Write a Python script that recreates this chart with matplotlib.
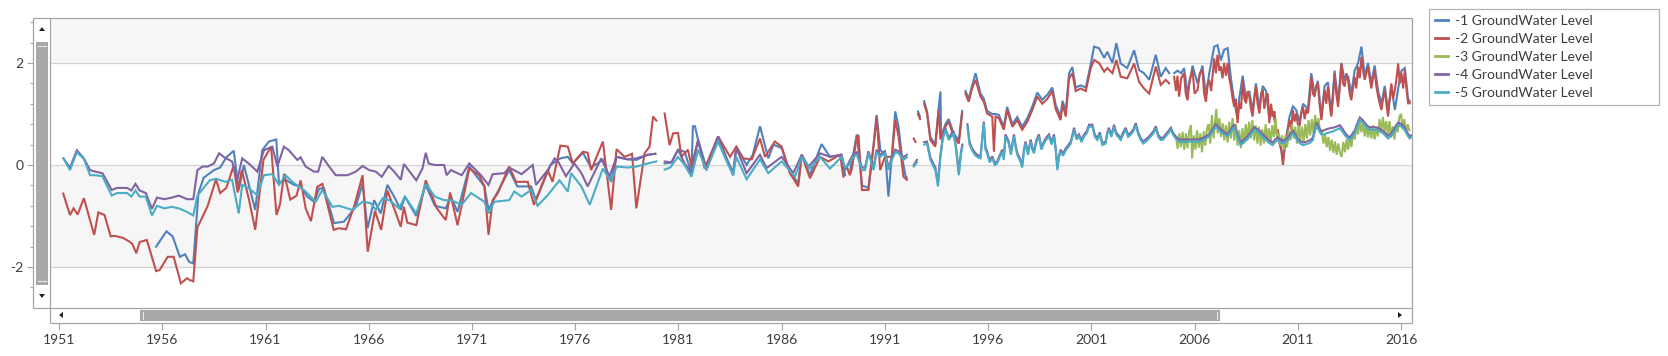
import numpy as np
import matplotlib
matplotlib.use("Agg")
import matplotlib.pyplot as plt
from matplotlib.patches import Rectangle, Polygon
from matplotlib.lines import Line2D
from matplotlib.ticker import MultipleLocator

plt.rcParams['font.family'] = ['Lato', 'DejaVu Sans']

# ---------------- data: (decimal year, level); None marks a gap ----------------
series_names = ["-1 GroundWater Level", "-2 GroundWater Level", "-3 GroundWater Level",
                "-4 GroundWater Level", "-5 GroundWater Level"]
series_colors = ["#4F81BD", "#C0504D", "#9BBB59", "#8064A2", "#4BACC6"]
x_ticks = [1951, 1956, 1961, 1966, 1971, 1976, 1981, 1986, 1991, 1996, 2001, 2006, 2011, 2016]
y_ticks = [-2, 0, 2]

gw1_early = [(1955.7, -1.6), (1956.2, -1.3), (1956.5, -1.4), (1956.85, -1.8), (1957.1, -1.75), (1957.3, -1.9),
             (1957.5, -1.93), (1957.75, -0.55), (1958.0, -0.25), (1958.5, -0.1), (1958.8, -0.05), (1959.1, 0.15),
             (1959.46, 0.28), (1959.7, -0.49), (1959.95, 0.0), (1960.5, -0.88), (1960.84, 0.29), (1961.16, 0.46),
             (1961.52, 0.5), (1961.65, -0.36), (1961.97, -0.29), (1962.38, -0.39), (1962.7, -0.42), (1963.02, -0.62),
             (1963.35, -0.72), (1963.6, -0.46), (1963.83, -0.46), (1964.32, -1.14), (1964.8, -1.11), (1965.37, -0.82),
             (1965.7, -0.36), (1965.94, -1.24), (1966.26, -0.69), (1966.58, -0.95), (1966.9, -0.39), (1967.23, -0.62),
             (1967.55, -0.88), (1967.75, -0.62), (1968.3, -1.0), (1968.76, -0.39), (1969.2, -0.8), (1969.73, -0.85),
             (1969.98, -0.62), (1970.3, -0.92), (1970.87, -0.03), (1971.6, -0.42), (1971.8, -0.88), (1972.08, -0.65),
             (1972.8, -0.1), (1973.2, -0.42), (1973.86, -0.42), (1974.1, -0.69), (1974.8, 0.0), (1975.28, 0.13),
             (1975.64, 0.16), (1975.88, 0.03), (1976.37, 0.24), (1976.77, -0.05), (1977.34, 0.1), (1977.74, -0.33),
             (1978.0, 0.16), (1978.55, 0.11), (1978.96, 0.1), (1979.5, 0.2), (1979.88, 0.22), None,
             (1980.33, 0.03), (1980.66, 0.05), (1980.98, 0.3), (1981.3, 0.26), (1981.63, -0.16), (1981.7, 0.76),
             (1981.8, 0.76), (1981.95, 0.49), (1982.35, -0.05), (1982.92, 0.56), (1983.3, 0.16), (1983.65, -0.15),
             (1983.8, 0.36), (1984.3, 0.0), (1984.6, 0.2), (1984.95, 0.76), (1985.35, 0.13), (1985.6, 0.4),
             (1986.0, 0.33), (1986.4, -0.15), (1986.8, -0.35), (1986.97, 0.2), (1987.37, -0.2), (1987.93, 0.41),
             (1988.34, 0.16), (1988.9, 0.2), (1989.07, -0.2)]
gw1_mid = [(1989.3, -0.15), (1989.64, 0.6), (1989.89, -0.4), (1990.2, -0.45), (1990.45, 0.4), (1990.6, 0.98),
           (1990.78, 0.29), (1991.02, 0.2), (1991.17, -0.62), (1991.34, 0.2), (1991.5, 1.05), (1991.66, 0.75),
           (1991.83, 0.15), (1991.99, -0.2), (1992.06, -0.25), None, (1992.6, 1.05), (1992.7, 0.95), None,
           (1992.9, 1.25), (1993.04, 1.05), (1993.2, 0.55), (1993.44, 0.4), (1993.6, 1.1), (1993.69, 1.44),
           (1993.72, 0.55), (1993.93, 0.8), (1994.09, 0.9), (1994.33, 0.62), (1994.58, 0.48), (1994.74, 1.06), None,
           (1994.9, 1.45), (1995.06, 1.3), (1995.22, 1.55), (1995.39, 1.8), (1995.63, 1.4), (1995.79, 1.3),
           (1995.95, 1.06), (1996.2, 1.0), (1996.36, 1.0), (1996.52, 0.98), (1996.76, 0.75), (1996.92, 1.14),
           (1997.17, 0.8), (1997.41, 0.94), (1997.65, 0.75), (1997.9, 0.92), (1998.14, 1.15), (1998.38, 1.42),
           (1998.62, 1.28), (1998.87, 1.38), (1999.11, 1.52), (1999.27, 1.18), (1999.51, 0.95), (1999.6, 1.26),
           (1999.76, 1.05), (1999.92, 1.8), (2000.08, 1.92), (2000.24, 1.52), (2000.48, 1.56), (2000.73, 1.52),
           (2000.97, 1.98), (2001.13, 2.32), (2001.37, 2.29), (2001.62, 2.1), (2001.77, 2.22), (2002.02, 2.0),
           (2002.21, 2.39), (2002.42, 1.99), (2002.74, 1.9), (2003.07, 2.25), (2003.31, 1.86), (2003.55, 1.8),
           (2003.8, 1.67), (2004.12, 2.16), (2004.36, 1.73), (2004.6, 1.9), (2004.77, 1.8)]
gw1_late = [(2005.01, 1.8), (2005.17, 1.85), (2005.35, 1.8), (2005.49, 1.9), (2005.66, 1.4), (2005.9, 1.95),
            (2006.14, 1.6), (2006.38, 1.95), (2006.55, 1.35), (2006.71, 1.8), (2006.95, 2.32), (2007.11, 2.35),
            (2007.27, 2.05), (2007.43, 2.26), (2007.6, 2.29), (2007.76, 1.7), (2007.92, 1.25), (2008.08, 0.9),
            (2008.16, 1.3), (2008.33, 1.75), (2008.49, 1.3), (2008.65, 1.45), (2008.81, 1.05), (2008.97, 1.6),
            (2009.14, 1.1), (2009.3, 1.55), (2009.46, 1.45), (2009.62, 0.9), (2009.79, 1.05), (2009.95, 0.7),
            (2010.11, 0.5), (2010.28, 0.1), (2010.44, 0.55), (2010.6, 0.95), (2010.76, 1.15), (2010.92, 1.08),
            (2011.08, 0.85), (2011.25, 1.2), (2011.49, 1.1), (2011.65, 1.8), (2011.81, 1.4), (2011.97, 1.65),
            (2012.14, 0.95), (2012.3, 1.55), (2012.46, 1.62), (2012.62, 1.0), (2012.78, 1.85), (2012.95, 1.25),
            (2013.11, 2.0), (2013.27, 1.65), (2013.43, 1.75), (2013.59, 1.4), (2013.75, 1.85), (2013.92, 2.0),
            (2014.08, 2.32), (2014.24, 1.75), (2014.4, 2.0), (2014.56, 1.6), (2014.72, 1.95), (2014.89, 1.45),
            (2015.05, 1.2), (2015.21, 1.55), (2015.37, 1.05), (2015.53, 1.55), (2015.7, 1.08), (2015.86, 1.5),
            (2016.02, 1.85), (2016.18, 1.9), (2016.34, 1.3), (2016.42, 1.25)]

gw2_early = [(1951.2, -0.56), (1951.53, -0.98), (1951.7, -0.85), (1951.9, -0.97), (1952.2, -0.65), (1952.7, -1.37),
             (1952.9, -0.93), (1953.2, -0.98), (1953.5, -1.4), (1953.7, -1.39), (1954.1, -1.43), (1954.4, -1.5),
             (1954.55, -1.55), (1954.74, -1.73), (1954.9, -1.51), (1955.25, -1.47), (1955.7, -2.08), (1955.87, -2.06),
             (1956.26, -1.8), (1956.55, -1.8), (1956.9, -2.32), (1957.2, -2.22), (1957.3, -2.25), (1957.5, -2.28),
             (1957.7, -1.22), (1957.85, -1.1), (1958.2, -0.8), (1958.6, -0.28), (1958.8, -0.55), (1959.1, -0.45),
             (1959.45, -0.02), (1959.65, -0.54), (1959.85, -0.1), (1960.2, -0.68), (1960.5, -1.27), (1960.9, 0.1),
             (1961.27, 0.36), (1961.53, -0.98), (1961.7, -0.77), (1961.9, -0.17), (1962.2, -0.68), (1962.5, -0.6),
             (1962.7, -0.3), (1962.95, -0.86), (1963.2, -1.1), (1963.5, -0.43), (1963.75, -0.37), (1964.3, -1.27),
             (1964.55, -1.24), (1964.9, -1.26), (1965.3, -0.8), (1965.7, -0.2), (1965.95, -1.7), (1966.3, -0.9),
             (1966.6, -1.27), (1966.9, -0.5), (1967.3, -0.93), (1967.55, -1.21), (1967.7, -0.82), (1967.87, -1.13),
             (1968.3, -1.18), (1968.76, -0.3), (1969.3, -0.85), (1969.73, -1.08), (1969.94, -0.54), (1970.3, -1.18),
             (1970.87, -0.07), (1971.35, -0.2), (1971.6, -0.42), (1971.8, -1.37), (1972.0, -0.69), (1972.24, -0.56),
             (1972.8, -0.03), (1973.13, -0.33), (1973.7, -0.33), (1974.0, -0.78), (1974.67, -0.1), (1974.9, -0.33),
             (1975.28, 0.38), (1975.64, 0.36), (1975.88, 0.03), (1976.37, 0.26), (1976.6, 0.24), (1976.77, -0.1),
             (1977.34, 0.46), (1977.74, -0.88), (1978.0, 0.31), (1978.39, 0.16), (1978.75, 0.22), (1978.96, -0.85),
             (1979.36, 0.23), (1979.6, 0.36), (1979.77, 0.95), (1979.93, 0.87), None,
             (1980.33, 1.01), (1980.57, 0.39), (1980.74, 0.62), (1980.98, 0.63), (1981.14, 0.16), (1981.46, 0.3),
             (1981.63, -0.03), (1981.95, 0.49), (1982.27, -0.07), (1982.92, 0.56), (1983.5, 0.16), (1983.8, 0.36),
             (1984.14, 0.13), (1984.55, 0.11), (1984.95, 0.52), (1985.19, 0.16), (1985.67, 0.46), (1986.0, 0.36),
             (1986.4, -0.16), (1986.8, -0.42), (1986.97, 0.2), (1987.37, -0.26), (1987.86, 0.16), (1988.26, 0.07),
             (1988.83, 0.2), (1988.99, -0.23)]
gw2_mid = [(1989.15, -0.03), (1989.3, -0.2), (1989.4, -0.07), (1989.64, 0.55), (1989.72, 0.59), (1989.89, -0.49),
           (1990.2, -0.49), (1990.45, 0.36), (1990.6, 0.95), (1990.77, -0.1), (1991.0, 0.16), (1991.34, 0.16),
           (1991.5, 0.88), (1991.66, 0.56), (1991.9, -0.23), (1992.06, -0.29), None, (1992.4, 0.52), (1992.48, 0.45),
           None, (1992.6, 1.0), (1992.7, 0.9), None, (1992.9, 1.2), (1993.04, 1.01), (1993.2, 0.49), (1993.44, 0.36),
           (1993.6, 1.08), (1993.69, 0.5), (1993.93, 0.75), (1994.09, 0.85), (1994.33, 0.56), (1994.58, 0.42),
           (1994.74, 1.01), None, (1994.9, 1.4), (1995.06, 1.24), (1995.22, 1.5), (1995.39, 1.67), (1995.63, 1.34),
           (1995.79, 1.24), (1995.95, 1.01), (1996.2, 0.95), (1996.28, 0.26), (1996.36, 0.95), (1996.52, 0.92),
           (1996.76, 0.69), (1996.92, 1.08), (1997.17, 0.75), (1997.41, 0.88), (1997.65, 0.69), (1997.9, 0.85),
           (1998.14, 1.08), (1998.38, 1.34), (1998.62, 1.2), (1998.87, 1.3), (1999.11, 1.45), (1999.27, 1.1),
           (1999.51, 0.88), (1999.6, 1.2), (1999.76, 0.95), (1999.92, 1.7), (2000.08, 1.8), (2000.24, 1.45),
           (2000.48, 1.5), (2000.73, 1.45), (2000.97, 1.9), (2001.13, 2.06), (2001.37, 2.0), (2001.62, 1.83),
           (2001.77, 1.9), (2002.02, 1.8), (2002.21, 2.06), (2002.42, 1.73), (2002.74, 1.7), (2003.07, 1.99),
           (2003.31, 1.63), (2003.55, 1.5), (2003.8, 1.4), (2004.12, 1.93), (2004.36, 1.57), (2004.6, 1.67),
           (2004.77, 1.6)]
gw2_late = [(2005.01, 1.73), (2005.1, 1.45), (2005.17, 1.75), (2005.25, 1.34), (2005.35, 1.7), (2005.49, 1.8),
            (2005.57, 1.4), (2005.66, 1.27), (2005.75, 1.65), (2005.9, 1.86), (2006.0, 1.4), (2006.14, 1.47),
            (2006.25, 1.8), (2006.38, 1.86), (2006.46, 1.4), (2006.55, 1.24), (2006.63, 1.6), (2006.71, 1.67),
            (2006.8, 1.45), (2006.95, 2.09), (2007.03, 1.8), (2007.11, 2.16), (2007.2, 1.85), (2007.27, 1.93),
            (2007.35, 1.7), (2007.43, 2.0), (2007.52, 1.75), (2007.6, 2.0), (2007.68, 1.7), (2007.76, 1.54),
            (2007.84, 1.3), (2007.92, 1.14), (2008.0, 1.3), (2008.08, 0.82), (2008.16, 1.21), (2008.25, 1.1),
            (2008.33, 1.67), (2008.41, 1.3), (2008.49, 1.21), (2008.57, 1.45), (2008.65, 1.34), (2008.73, 1.1),
            (2008.81, 0.95), (2008.89, 1.3), (2008.97, 1.54), (2009.05, 1.2), (2009.14, 1.01), (2009.22, 1.4),
            (2009.3, 1.47), (2009.38, 1.1), (2009.46, 1.34), (2009.54, 1.4), (2009.62, 0.82), (2009.7, 1.2),
            (2009.79, 0.95), (2009.87, 1.05), (2009.95, 0.62), (2010.03, 0.7), (2010.11, 0.42), (2010.2, 0.3),
            (2010.28, 0.0), (2010.36, 0.35), (2010.44, 0.49), (2010.52, 0.7), (2010.6, 0.88), (2010.68, 0.7),
            (2010.76, 1.08), (2010.84, 0.85), (2010.92, 1.01), (2011.0, 0.8), (2011.08, 0.75), (2011.16, 1.0),
            (2011.25, 1.14), (2011.33, 0.9), (2011.41, 1.1), (2011.49, 1.01), (2011.57, 1.3), (2011.65, 1.73),
            (2011.73, 1.4), (2011.81, 1.34), (2011.89, 1.55), (2011.97, 1.6), (2012.05, 1.2), (2012.14, 0.88),
            (2012.22, 1.2), (2012.3, 1.47), (2012.38, 1.2), (2012.46, 1.54), (2012.54, 1.2), (2012.62, 0.95),
            (2012.7, 1.3), (2012.78, 1.8), (2012.86, 1.4), (2012.95, 1.14), (2013.03, 1.5), (2013.11, 1.99),
            (2013.19, 1.6), (2013.27, 1.54), (2013.35, 1.8), (2013.43, 1.67), (2013.51, 1.4), (2013.59, 1.27),
            (2013.67, 1.5), (2013.75, 1.73), (2013.83, 1.5), (2013.92, 1.93), (2014.0, 1.7), (2014.08, 2.12),
            (2014.16, 1.85), (2014.24, 1.67), (2014.32, 1.8), (2014.4, 1.93), (2014.48, 1.7), (2014.56, 1.5),
            (2014.64, 1.7), (2014.72, 1.86), (2014.8, 1.55), (2014.89, 1.34), (2014.97, 1.2), (2015.05, 1.08),
            (2015.13, 1.3), (2015.21, 1.47), (2015.29, 1.2), (2015.37, 0.95), (2015.45, 1.3), (2015.53, 1.6),
            (2015.61, 1.3), (2015.7, 1.47), (2015.78, 1.7), (2015.86, 1.99), (2015.94, 1.6), (2016.02, 1.8),
            (2016.1, 1.5), (2016.18, 1.86), (2016.26, 1.5), (2016.34, 1.21), (2016.42, 1.21)]

gw3_late = [(2005.1, 0.55), (2005.18, 0.32), (2005.26, 0.62), (2005.34, 0.35), (2005.42, 0.65), (2005.5, 0.3),
            (2005.58, 0.62), (2005.66, 0.33), (2005.74, 0.66), (2005.82, 0.78), (2005.88, 0.13), (2005.96, 0.58),
            (2006.04, 0.3), (2006.12, 0.68), (2006.2, 0.34), (2006.28, 0.62), (2006.36, 0.25), (2006.44, 0.66),
            (2006.52, 0.38), (2006.6, 0.72), (2006.68, 0.8), (2006.76, 0.42), (2006.84, 0.98), (2006.92, 0.52),
            (2007.0, 0.88), (2007.05, 1.1), (2007.12, 0.62), (2007.2, 0.92), (2007.28, 0.55), (2007.36, 0.82),
            (2007.44, 0.48), (2007.52, 0.78), (2007.6, 0.44), (2007.68, 0.85), (2007.76, 0.52), (2007.84, 0.92),
            (2007.92, 0.48), (2008.0, 0.8), (2008.08, 0.38), (2008.16, 0.68), (2008.24, 0.33), (2008.32, 0.72),
            (2008.4, 0.42), (2008.48, 0.8), (2008.56, 0.48), (2008.64, 0.85), (2008.72, 0.52), (2008.8, 0.88),
            (2008.88, 0.48), (2008.96, 0.78), (2009.04, 0.42), (2009.12, 0.75), (2009.2, 0.38), (2009.28, 0.7),
            (2009.36, 0.42), (2009.44, 0.8), (2009.52, 0.48), (2009.6, 0.72), (2009.68, 0.42), (2009.76, 0.78),
            (2009.84, 0.55), (2009.92, 0.92), (2010.0, 0.52), (2010.08, 0.62), (2010.16, 0.38), (2010.24, 0.58),
            (2010.32, 0.3), (2010.4, 0.58), (2010.48, 0.35), (2010.56, 0.68), (2010.64, 0.48), (2010.72, 0.8),
            (2010.8, 0.52), (2010.88, 0.75), (2010.96, 0.42), (2011.04, 0.78), (2011.12, 0.48), (2011.2, 0.75),
            (2011.28, 0.45), (2011.36, 0.8), (2011.44, 0.52), (2011.52, 0.88), (2011.6, 0.58), (2011.68, 0.9),
            (2011.76, 0.62), (2011.84, 0.98), (2011.92, 0.7), (2012.0, 0.92), (2012.08, 0.62), (2012.16, 0.66),
            (2012.24, 0.42), (2012.32, 0.6), (2012.4, 0.35), (2012.48, 0.55), (2012.56, 0.28), (2012.64, 0.5),
            (2012.72, 0.24), (2012.8, 0.46), (2012.88, 0.2), (2012.96, 0.42), (2013.04, 0.24), (2013.12, 0.16),
            (2013.2, 0.45), (2013.28, 0.25), (2013.36, 0.5), (2013.44, 0.3), (2013.52, 0.56), (2013.6, 0.35),
            (2013.68, 0.66), (2013.76, 0.5), (2013.84, 0.8), (2013.92, 0.6), (2014.0, 0.88), (2014.08, 0.64),
            (2014.16, 0.84), (2014.24, 0.56), (2014.32, 0.78), (2014.4, 0.54), (2014.48, 0.76), (2014.56, 0.52),
            (2014.64, 0.78), (2014.72, 0.5), (2014.8, 0.74), (2014.88, 0.56), (2014.96, 0.9), (2015.04, 0.64),
            (2015.12, 0.94), (2015.2, 0.66), (2015.28, 0.86), (2015.36, 0.6), (2015.44, 0.86), (2015.52, 0.54),
            (2015.6, 0.76), (2015.68, 0.5), (2015.76, 0.8), (2015.84, 0.64), (2015.92, 0.95), (2016.0, 1.0),
            (2016.08, 0.7), (2016.16, 0.9), (2016.24, 0.62), (2016.32, 0.8), (2016.4, 0.68)]

gw4_early = [(1951.21, 0.13), (1951.53, -0.05), (1951.86, 0.29), (1952.2, 0.13), (1952.5, -0.1), (1952.75, -0.13),
             (1953.1, -0.16), (1953.55, -0.49), (1953.8, -0.45), (1954.3, -0.45), (1954.5, -0.5), (1954.7, -0.37),
             (1954.9, -0.5), (1955.2, -0.55), (1955.5, -0.86), (1955.74, -0.64), (1956.1, -0.67), (1956.45, -0.64),
             (1956.8, -0.6), (1957.2, -0.67), (1957.5, -0.67), (1957.7, -0.1), (1957.95, -0.03), (1958.2, -0.03),
             (1958.5, 0.03), (1958.75, 0.23), (1959.0, 0.15), (1959.38, 0.07), (1959.63, -0.29), (1959.87, 0.13),
             (1960.27, 0.0), (1960.6, -0.13), (1960.92, 0.29), (1961.33, 0.36), (1961.57, -0.03), (1961.89, 0.36),
             (1962.13, 0.29), (1962.54, 0.1), (1962.7, 0.15), (1962.94, -0.03), (1963.35, -0.13), (1963.55, -0.13),
             (1963.75, 0.16), (1964.08, -0.03), (1964.4, -0.2), (1964.97, -0.2), (1965.37, -0.13), (1965.7, -0.02),
             (1966.02, -0.1), (1966.34, -0.13), (1966.63, -0.23), (1966.96, -0.02), (1967.23, -0.13), (1967.55, -0.29),
             (1967.7, 0.02), (1968.3, -0.3), (1968.6, -0.07), (1968.76, 0.24), (1968.9, 0.03), (1969.2, 0.0),
             (1969.65, 0.0), (1969.77, -0.2), (1969.98, -0.1), (1970.5, -0.2), (1970.87, 0.03), (1971.43, -0.2),
             (1971.8, -0.39), (1972.0, -0.18), (1972.57, -0.16), (1972.8, -0.05), (1973.4, -0.18), (1973.94, 0.0),
             (1974.1, -0.39), (1974.67, -0.1), (1975.0, 0.13), (1975.2, 0.05), (1975.55, -0.22), (1975.96, 0.03),
             (1976.3, -0.16), (1976.6, -0.42), (1977.26, 0.13), (1977.66, -0.23), (1978.0, 0.16), (1978.55, 0.11),
             (1978.96, 0.13), (1979.5, 0.2), (1979.88, 0.22), None,
             (1980.33, 0.07), (1980.66, 0.05), (1980.98, 0.3), (1981.3, 0.03), (1981.63, -0.16), (1981.95, 0.49),
             (1982.35, -0.1), (1982.92, 0.56), (1983.3, 0.16), (1983.65, -0.2), (1983.8, 0.33), (1984.3, -0.16),
             (1984.95, 0.2), (1985.27, -0.06), (1986.0, 0.16), (1986.56, -0.16), (1986.97, 0.2), (1987.3, -0.03),
             (1987.86, 0.23), (1988.34, 0.16), (1988.9, 0.2), (1989.07, -0.1)]
gw4_late = [(1989.25, 0.05), (1989.45, 0.2), (1989.64, 0.25), (1989.89, -0.05), (1990.04, -0.05), (1990.2, 0.27),
            (1990.45, -0.05), (1990.6, 0.3), (1990.77, 0.2), (1991.0, 0.27), (1991.17, -0.05), (1991.34, 0.15),
            (1991.5, 0.3), (1991.66, 0.27), (1991.9, 0.15), (1992.06, 0.2), None, (1992.4, 0.0), (1992.55, 0.1), None,
            (1992.9, 0.45), (1993.04, 0.46), (1993.2, 0.15), (1993.44, -0.05), (1993.57, -0.35), (1993.69, 0.2),
            (1993.8, 0.55), (1993.93, 0.72), (1994.09, 0.52), (1994.2, 0.6), (1994.33, 0.66), (1994.45, 0.33),
            (1994.58, -0.15), (1994.68, 0.25), (1994.75, 0.4), None, (1995.0, 0.8), (1995.1, 0.45), (1995.22, 0.33),
            (1995.35, 0.25), (1995.46, 0.2), (1995.63, 0.17), (1995.79, 0.85), (1995.87, 0.35), (1995.95, 0.27),
            (1996.07, 0.09), (1996.2, 0.17), (1996.32, 0.04), (1996.44, 0.07), (1996.56, 0.19), (1996.68, 0.3),
            (1996.76, 0.14), (1996.84, 0.6), (1997.0, 0.46), (1997.1, 0.24), (1997.25, 0.6), (1997.33, 0.39),
            (1997.41, 0.24), (1997.53, 0.14), (1997.65, 0.0), (1997.73, 0.29), (1997.81, 0.46), (1997.93, 0.24),
            (1998.06, 0.5), (1998.14, 0.34), (1998.22, 0.27), (1998.34, 0.49), (1998.46, 0.6), (1998.58, 0.34),
            (1998.7, 0.46), (1998.82, 0.54), (1998.95, 0.6), (1999.07, 0.44), (1999.19, 0.6), (1999.27, 0.34),
            (1999.35, -0.05), (1999.43, 0.19), (1999.51, 0.3), (1999.63, 0.22), (1999.76, 0.33), (1999.88, 0.39),
            (2000.0, 0.46), (2000.08, 0.59), (2000.16, 0.73), (2000.28, 0.54), (2000.4, 0.6), (2000.52, 0.49),
            (2000.65, 0.6), (2000.77, 0.66), (2000.89, 0.79), (2001.05, 0.79), (2001.17, 0.59), (2001.29, 0.53),
            (2001.41, 0.64), (2001.53, 0.43), (2001.69, 0.46), (2001.77, 0.64), (2001.85, 0.73), (2001.97, 0.59),
            (2002.1, 0.79), (2002.2, 0.64), (2002.3, 0.59), (2002.42, 0.53), (2002.54, 0.64), (2002.66, 0.73),
            (2002.78, 0.59), (2002.9, 0.63), (2003.02, 0.69), (2003.15, 0.82), (2003.27, 0.64), (2003.39, 0.53),
            (2003.51, 0.46), (2003.63, 0.5), (2003.75, 0.54), (2003.88, 0.6), (2004.0, 0.66), (2004.12, 0.76),
            (2004.24, 0.59), (2004.36, 0.53), (2004.48, 0.54), (2004.6, 0.6), (2004.72, 0.66), (2004.85, 0.73),
            (2004.95, 0.64), (2005.01, 0.6), (2005.13, 0.54), (2005.25, 0.5), (2005.5, 0.5), (2005.74, 0.5),
            (2006.0, 0.5), (2006.22, 0.5), (2006.45, 0.54), (2006.71, 0.6), (2006.87, 0.7), (2007.03, 0.8),
            (2007.15, 0.75), (2007.27, 0.7), (2007.45, 0.64), (2007.6, 0.6), (2007.76, 0.7), (2007.92, 0.8),
            (2008.08, 0.6), (2008.24, 0.44), (2008.4, 0.5), (2008.57, 0.57), (2008.73, 0.65), (2008.89, 0.74),
            (2009.05, 0.7), (2009.14, 0.67), (2009.3, 0.6), (2009.46, 0.54), (2009.62, 0.48), (2009.78, 0.44),
            (2009.9, 0.5), (2010.03, 0.54), (2010.15, 0.5), (2010.28, 0.47), (2010.4, 0.5), (2010.52, 0.54),
            (2010.64, 0.61), (2010.76, 0.67), (2010.88, 0.6), (2011.0, 0.51), (2011.12, 0.47), (2011.25, 0.44),
            (2011.37, 0.45), (2011.49, 0.47), (2011.61, 0.49), (2011.73, 0.54), (2011.82, 0.7), (2011.9, 0.83),
            (2012.02, 0.74), (2012.14, 0.66), (2012.26, 0.68), (2012.38, 0.7), (2012.54, 0.72), (2012.7, 0.73),
            (2012.86, 0.75), (2013.03, 0.78), (2013.15, 0.72), (2013.27, 0.64), (2013.39, 0.58), (2013.51, 0.54),
            (2013.63, 0.6), (2013.75, 0.67), (2013.88, 0.81), (2014.0, 0.93), (2014.12, 0.89), (2014.24, 0.83),
            (2014.36, 0.77), (2014.48, 0.74), (2014.64, 0.74), (2014.8, 0.74), (2014.97, 0.71), (2015.13, 0.67),
            (2015.25, 0.62), (2015.37, 0.57), (2015.49, 0.61), (2015.61, 0.67), (2015.73, 0.75), (2015.86, 0.83),
            (2015.98, 0.81), (2016.1, 0.78), (2016.22, 0.7), (2016.34, 0.61), (2016.42, 0.56), (2016.5, 0.58),
            (2016.6, 0.6)]

gw5_early = [(1951.21, 0.13), (1951.53, -0.1), (1951.86, 0.25), (1952.2, 0.12), (1952.5, -0.2), (1952.75, -0.2),
             (1953.1, -0.22), (1953.55, -0.6), (1953.8, -0.55), (1954.3, -0.55), (1954.5, -0.62), (1954.7, -0.5),
             (1954.9, -0.62), (1955.2, -0.62), (1955.5, -0.99), (1955.74, -0.8), (1956.1, -0.85), (1956.45, -0.82),
             (1956.8, -0.85), (1957.2, -0.92), (1957.5, -0.99), (1957.7, -0.6), (1958.0, -0.45), (1958.3, -0.3),
             (1958.6, -0.27), (1959.06, -0.33), (1959.38, -0.29), (1959.7, -0.95), (1959.87, -0.39), (1960.2, -0.46),
             (1960.6, -0.59), (1960.92, -0.2), (1961.33, -0.18), (1961.65, -0.39), (1961.97, -0.2), (1962.3, -0.33),
             (1962.94, -0.52), (1963.43, -0.72), (1963.75, -0.49), (1964.24, -0.82), (1964.56, -0.8), (1965.2, -0.88),
             (1965.7, -0.72), (1966.1, -0.75), (1966.34, -0.88), (1966.67, -0.65), (1967.0, -0.69), (1967.47, -0.85),
             (1967.75, -0.62), (1968.3, -0.95), (1968.76, -0.37), (1969.2, -0.62), (1969.65, -0.69), (1969.98, -0.69),
             (1970.5, -0.78), (1970.95, -0.55), (1971.6, -0.72), (1971.8, -0.95), (1972.08, -0.72), (1972.8, -0.69),
             (1973.05, -0.52), (1973.4, -0.62), (1973.86, -0.49), (1974.18, -0.8), (1974.67, -0.59), (1975.24, -0.3),
             (1975.64, -0.52), (1975.8, -0.16), (1976.3, -0.42), (1976.7, -0.78), (1977.34, -0.07), (1977.74, -0.33),
             (1978.0, -0.03), (1978.55, -0.05), (1978.96, -0.03), (1979.5, 0.03), (1979.93, 0.07), None,
             (1980.33, -0.09), (1980.6, -0.05), (1980.98, 0.16), (1981.3, 0.0), (1981.63, -0.23), (1981.95, 0.3),
             (1982.35, -0.1), (1982.92, 0.46), (1983.3, 0.1), (1983.65, -0.2), (1983.8, 0.16), (1984.3, -0.28),
             (1984.95, 0.11), (1985.35, -0.16), (1986.0, 0.07), (1986.65, -0.23), (1986.97, 0.16), (1987.37, -0.07),
             (1987.86, 0.16), (1988.34, -0.07), (1988.9, 0.16), (1989.07, -0.05)]
gw5_late = [(1989.25, 0.0), (1989.45, 0.15), (1989.64, 0.2), (1989.89, -0.1), (1990.04, -0.1), (1990.2, 0.23),
            (1990.45, -0.1), (1990.6, 0.25), (1990.77, 0.16), (1991.0, 0.23), (1991.17, -0.1), (1991.34, 0.1),
            (1991.5, 0.25), (1991.66, 0.23), (1991.9, 0.1), (1992.06, 0.15), None, (1992.4, -0.03), (1992.55, 0.05),
            None, (1992.9, 0.4), (1993.04, 0.42), (1993.2, 0.1), (1993.44, -0.1), (1993.57, -0.42), (1993.69, 0.16),
            (1993.8, 0.5), (1993.93, 0.69), (1994.09, 0.49), (1994.2, 0.55), (1994.33, 0.62), (1994.45, 0.29),
            (1994.58, -0.2), (1994.68, 0.2), (1994.75, 0.36), None, (1995.0, 0.75), (1995.1, 0.4), (1995.22, 0.29),
            (1995.35, 0.2), (1995.46, 0.16), (1995.63, 0.13), (1995.79, 0.82), (1995.87, 0.3), (1995.95, 0.23),
            (1996.07, 0.05), (1996.2, 0.13), (1996.32, 0.0), (1996.44, 0.03), (1996.56, 0.15), (1996.68, 0.26),
            (1996.76, 0.1), (1996.84, 0.56), (1997.0, 0.42), (1997.1, 0.2), (1997.25, 0.56), (1997.33, 0.35),
            (1997.41, 0.2), (1997.53, 0.1), (1997.65, -0.05), (1997.73, 0.25), (1997.81, 0.42), (1997.93, 0.2),
            (1998.06, 0.46), (1998.14, 0.3), (1998.22, 0.23), (1998.34, 0.45), (1998.46, 0.56), (1998.58, 0.3),
            (1998.7, 0.42), (1998.82, 0.5), (1998.95, 0.56), (1999.07, 0.4), (1999.19, 0.56), (1999.27, 0.3),
            (1999.35, -0.1), (1999.43, 0.15), (1999.51, 0.26), (1999.63, 0.18), (1999.76, 0.29), (1999.88, 0.35),
            (2000.0, 0.42), (2000.08, 0.55), (2000.16, 0.69), (2000.28, 0.5), (2000.4, 0.56), (2000.52, 0.45),
            (2000.65, 0.56), (2000.77, 0.62), (2000.89, 0.75), (2001.05, 0.75), (2001.17, 0.55), (2001.29, 0.49),
            (2001.41, 0.6), (2001.53, 0.39), (2001.69, 0.42), (2001.77, 0.6), (2001.85, 0.69), (2001.97, 0.55),
            (2002.1, 0.75), (2002.2, 0.6), (2002.3, 0.55), (2002.42, 0.49), (2002.54, 0.6), (2002.66, 0.69),
            (2002.78, 0.55), (2002.9, 0.59), (2003.02, 0.65), (2003.15, 0.78), (2003.27, 0.6), (2003.39, 0.49),
            (2003.51, 0.42), (2003.63, 0.46), (2003.75, 0.5), (2003.88, 0.56), (2004.0, 0.62), (2004.12, 0.72),
            (2004.24, 0.55), (2004.36, 0.49), (2004.48, 0.5), (2004.6, 0.56), (2004.72, 0.62), (2004.85, 0.69),
            (2004.95, 0.6), (2005.01, 0.56), (2005.13, 0.5), (2005.25, 0.46), (2005.5, 0.45), (2005.74, 0.46),
            (2006.0, 0.46), (2006.22, 0.46), (2006.45, 0.5), (2006.71, 0.56), (2006.87, 0.65), (2007.03, 0.75),
            (2007.15, 0.7), (2007.27, 0.65), (2007.45, 0.6), (2007.6, 0.56), (2007.76, 0.65), (2007.92, 0.75),
            (2008.08, 0.55), (2008.24, 0.39), (2008.4, 0.45), (2008.57, 0.52), (2008.73, 0.6), (2008.89, 0.69),
            (2009.05, 0.65), (2009.14, 0.62), (2009.3, 0.55), (2009.46, 0.49), (2009.62, 0.43), (2009.78, 0.39),
            (2009.9, 0.45), (2010.03, 0.49), (2010.15, 0.45), (2010.28, 0.42), (2010.4, 0.45), (2010.52, 0.49),
            (2010.64, 0.56), (2010.76, 0.62), (2010.88, 0.55), (2011.0, 0.46), (2011.12, 0.42), (2011.25, 0.39),
            (2011.37, 0.4), (2011.49, 0.42), (2011.61, 0.44), (2011.73, 0.49), (2011.82, 0.65), (2011.9, 0.78),
            (2012.02, 0.68), (2012.14, 0.6), (2012.26, 0.6), (2012.38, 0.62), (2012.54, 0.64), (2012.7, 0.66),
            (2012.86, 0.69), (2013.03, 0.72), (2013.15, 0.66), (2013.27, 0.59), (2013.39, 0.53), (2013.51, 0.49),
            (2013.63, 0.55), (2013.75, 0.62), (2013.88, 0.76), (2014.0, 0.88), (2014.12, 0.84), (2014.24, 0.78),
            (2014.36, 0.72), (2014.48, 0.69), (2014.64, 0.69), (2014.8, 0.69), (2014.97, 0.66), (2015.13, 0.62),
            (2015.25, 0.57), (2015.37, 0.52), (2015.49, 0.56), (2015.61, 0.62), (2015.73, 0.7), (2015.86, 0.78),
            (2015.98, 0.76), (2016.1, 0.73), (2016.22, 0.65), (2016.34, 0.56), (2016.42, 0.52), (2016.5, 0.55),
            (2016.58, 0.56)]


def unzip(*parts):
    xs, ys = [], []
    for k, part in enumerate(parts):
        if k > 0:
            xs.append(np.nan); ys.append(np.nan)
        for p in part:
            if p is None:
                xs.append(np.nan); ys.append(np.nan)
            else:
                xs.append(p[0]); ys.append(p[1])
    return np.array(xs), np.array(ys)


series = [
    unzip(gw1_early, gw1_mid, gw1_late),
    unzip(gw2_early, gw2_mid, gw2_late),
    unzip(gw3_late),
    unzip(gw4_early + gw4_late),
    unzip(gw5_early + gw5_late),
]

# ---------------- layout (figure pixels) ----------------
W, H = 1668, 356
X0, X1, Y0, Y1 = 50, 1412, 18, 307   # plot area
XMIN, XMAX = 1950.56, 2016.53
YMIN, YMAX = -2.784, 2.882


def fbox(l, t, r, b):
    return [l / W, 1 - b / H, (r - l) / W, (b - t) / H]


fig = plt.figure(figsize=(W / 100, H / 100), dpi=100)
fig.patch.set_facecolor('white')

ax = fig.add_axes(fbox(X0, Y0, X1, Y1))
ax.set_xlim(XMIN, XMAX)
ax.set_ylim(YMIN, YMAX)
ax.axhspan(2, YMAX, color='#f6f6f6', lw=0, zorder=0)
ax.axhspan(-2, 0, color='#f6f6f6', lw=0, zorder=0)
for yv in y_ticks:
    ax.axhline(yv, color='#d4d4d4', lw=0.9, zorder=1)
for (xs, ys), c in zip(series, series_colors):
    ax.plot(xs, ys, color=c, lw=1.5, solid_joinstyle='miter', zorder=3)
ax.set_xticks([]); ax.set_yticks([])
for s in ax.spines.values():
    s.set_visible(False)

GRID = '#a6a6a6'
TXT = '#3c3c3c'

# y axis (left of the vertical scrollbar)
ay = fig.add_axes(fbox(33, Y0, 50, Y1))
ay.set_ylim(YMIN, YMAX)
ay.patch.set_visible(False)
ay.set_xticks([])
ay.set_yticks(y_ticks)
ay.set_yticklabels([str(v) for v in y_ticks])
ay.yaxis.set_minor_locator(MultipleLocator(0.4))
ay.tick_params(axis='y', which='major', length=4, width=0.8, color=GRID, labelsize=10, labelcolor=TXT, pad=3)
ay.tick_params(axis='y', which='minor', length=2, width=0.8, color=GRID)
for s in ay.spines.values():
    s.set_visible(False)

# x axis (below the horizontal scrollbar)
axx = fig.add_axes(fbox(X0, 308, X1, 323))
axx.set_xlim(XMIN, XMAX)
axx.patch.set_visible(False)
axx.set_yticks([])
axx.set_xticks(x_ticks)
axx.set_xticklabels([str(v) for v in x_ticks])
axx.tick_params(axis='x', length=5, width=0.8, color=GRID, labelsize=10, labelcolor=TXT, pad=3)
for s in axx.spines.values():
    s.set_visible(False)

# overlay: frame and scrollbars drawn in pixel space
ov = fig.add_axes([0, 0, 1, 1])
ov.set_xlim(0, W); ov.set_ylim(H, 0)
ov.axis('off')
ov.patch.set_visible(False)
frame = [((33, 18), (1412, 18)), ((1412, 18), (1412, 323)), ((50, 323), (1412, 323)),
         ((33, 18), (33, 308)), ((33, 308), (1412, 308)), ((50, 18), (50, 323))]
for (a, b) in frame:
    ov.plot([a[0], b[0]], [a[1], b[1]], color=GRID, lw=0.9, solid_capstyle='butt')
THUMB = '#a8a8a8'
ov.add_patch(Rectangle((36, 42), 12, 243, color=THUMB, lw=0))
ov.plot([38, 46], [46, 46], color='#e8e8e8', lw=0.8)
ov.plot([38, 46], [281, 281], color='#e8e8e8', lw=0.8)
ov.add_patch(Polygon([(39, 31), (45, 31), (42, 27)], color='#222222', lw=0))
ov.add_patch(Polygon([(39, 294), (45, 294), (42, 298)], color='#222222', lw=0))
ov.add_patch(Rectangle((140, 310), 1080, 11, color=THUMB, lw=0))
ov.plot([143, 143], [312, 319], color='#e8e8e8', lw=0.8)
ov.plot([1217, 1217], [312, 319], color='#e8e8e8', lw=0.8)
ov.add_patch(Polygon([(63, 312), (63, 318), (59, 315)], color='#222222', lw=0))
ov.add_patch(Polygon([(1398, 312), (1398, 318), (1402, 315)], color='#222222', lw=0))

# legend
handles = [Line2D([0], [0], color=c, lw=2) for c in series_colors]
leg = fig.legend(handles, series_names, loc='upper left',
                 bbox_to_anchor=(1429 / W, 1 - 114 / H, 230 / W, 105 / H), mode='expand',
                 frameon=True, fancybox=False, edgecolor='#a0a0a0', fontsize=10,
                 handlelength=0.9, handletextpad=0.5, labelspacing=0.42, borderpad=0.45,
                 borderaxespad=0)
leg.get_frame().set_linewidth(0.9)
for t in leg.get_texts():
    t.set_color(TXT)

fig.savefig('out.png', dpi=100, facecolor='white')
